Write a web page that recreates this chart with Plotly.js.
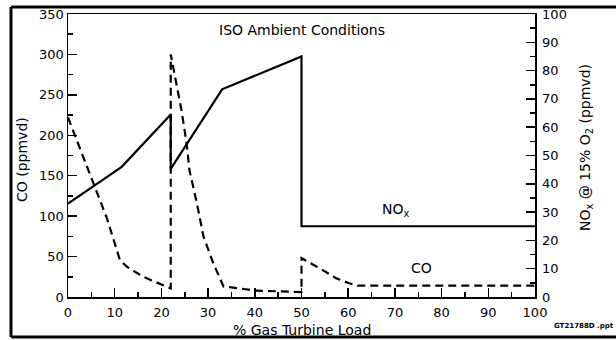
<!DOCTYPE html>
<html>
<head>
<meta charset="utf-8">
<script src="https://cdn.plot.ly/plotly-3.0.1.min.js"></script>
<style>
html,body{margin:0;padding:0;background:#fff;}
#chart{width:616px;height:340px;}
</style>
</head>
<body>
<div id="chart"></div>
<script>
// NOx (right axis, ppmvd @ 15% O2) vs % gas turbine load
const noxLoad = [0, 11.5, 22, 22, 33, 50, 50, 100];
const noxVals = [33, 46, 64.5, 45.3, 73.4, 85, 25, 25];

// CO (left axis, ppmvd) vs % gas turbine load
const coLoad = [0, 4.7, 8.3, 11.1, 12.6, 16.1, 20, 22, 22, 22.9, 24.3, 25.4, 26, 27.6, 29, 31.1, 33.3, 35, 40, 45, 50, 50, 53.3, 57.5, 60.2, 62, 100];
const coVals = [222, 151, 98, 46, 37.5, 25, 15, 10.7, 300, 272, 231, 190, 157, 116, 75, 42, 13, 12, 8, 7, 6, 48, 37.5, 23, 17, 14, 14];

const xTicks = [0, 10, 20, 30, 40, 50, 60, 70, 80, 90, 100];
const xMinor = [5, 15, 25, 35, 45, 55, 65, 75, 85, 95];
const coTicks = [0, 50, 100, 150, 200, 250, 300, 350];
const coMinor = [25, 75, 125, 175, 225, 275, 325];
const noxTicks = [0, 10, 20, 30, 40, 50, 60, 70, 80, 90, 100];
const noxMinor = [5, 15, 25, 35, 45, 55, 65, 75, 85, 95];

const FONT = 'DejaVu Sans, Arial, sans-serif';
const L = 68, R = 535, T = 14, B = 297;
const W = 616, H = 340;
const px = x => (x - L) / (R - L);
const py = y => (B - y) / (B - T);

const traces = [
  {x: noxLoad, y: noxVals, yaxis: 'y2', mode: 'lines', line: {color: '#000', width: 2.2}, hoverinfo: 'skip'},
  {x: coLoad, y: coVals, yaxis: 'y', mode: 'lines', line: {color: '#000', width: 2.2, dash: '8px,5px'}, hoverinfo: 'skip'}
];

const axisCommon = {
  showgrid: false, zeroline: false, showline: true, linecolor: '#000', linewidth: 1.5,
  ticks: 'inside', ticklen: 9, tickwidth: 1.5, tickcolor: '#000',
  tickfont: {family: FONT, size: 13, color: '#000'}
};
const minorTicks = vals => ({tickvals: vals, ticks: 'inside', ticklen: 5, tickwidth: 1.5, tickcolor: '#000'});

const layout = {
  width: W, height: H,
  margin: {l: L, r: W - R, t: T, b: H - B},
  paper_bgcolor: '#fff', plot_bgcolor: '#fff',
  showlegend: false,
  xaxis: Object.assign({}, axisCommon, {
    range: [0, 100], tickvals: xTicks, ticktext: xTicks.map(String), mirror: true,
    ticklabelstandoff: 3, minor: minorTicks(xMinor)
  }),
  yaxis: Object.assign({}, axisCommon, {
    range: [0, 350], tickvals: coTicks, ticktext: coTicks.map(String),
    minor: minorTicks(coMinor)
  }),
  yaxis2: Object.assign({}, axisCommon, {
    range: [0, 100], tickvals: noxTicks, ticktext: noxTicks.map(String),
    overlaying: 'y', side: 'right', ticklabelstandoff: 3,
    minor: minorTicks(noxMinor)
  }),
  shapes: [
    {type: 'line', xref: 'paper', yref: 'paper', x0: px(11), x1: px(640), y0: py(7), y1: py(7), line: {color: '#000', width: 3}},
    {type: 'line', xref: 'paper', yref: 'paper', x0: px(11), x1: px(640), y0: py(337), y1: py(337), line: {color: '#000', width: 3}},
    {type: 'line', xref: 'paper', yref: 'paper', x0: px(11), x1: px(11), y0: py(7), y1: py(337), line: {color: '#000', width: 3}}
  ],
  annotations: [
    {text: 'ISO Ambient Conditions', x: px(302), y: py(30)},
    {text: 'NO<sub>x</sub>', x: px(396), y: py(210)},
    {text: 'CO', x: px(421), y: py(268)},
    {text: '% Gas Turbine Load', x: px(302), y: py(330)},
    {text: 'CO (ppmvd)', x: px(22), y: py(160), textangle: -90},
    {text: 'NO<sub>x</sub> @ 15% O<sub>2</sub> (ppmvd)', x: px(586), y: py(148), textangle: -90},
    {text: '<b>GT21788D .ppt</b>', x: px(584), y: py(326), size: 7}
  ].map(a => ({
    text: a.text, x: a.x, y: a.y, xref: 'paper', yref: 'paper', showarrow: false,
    xanchor: 'center', yanchor: 'middle', textangle: a.textangle || 0,
    font: {family: FONT, size: a.size || 14, color: '#000'}
  }))
};

Plotly.newPlot('chart', traces, layout, {staticPlot: true, displayModeBar: false});
</script>
</body>
</html>
